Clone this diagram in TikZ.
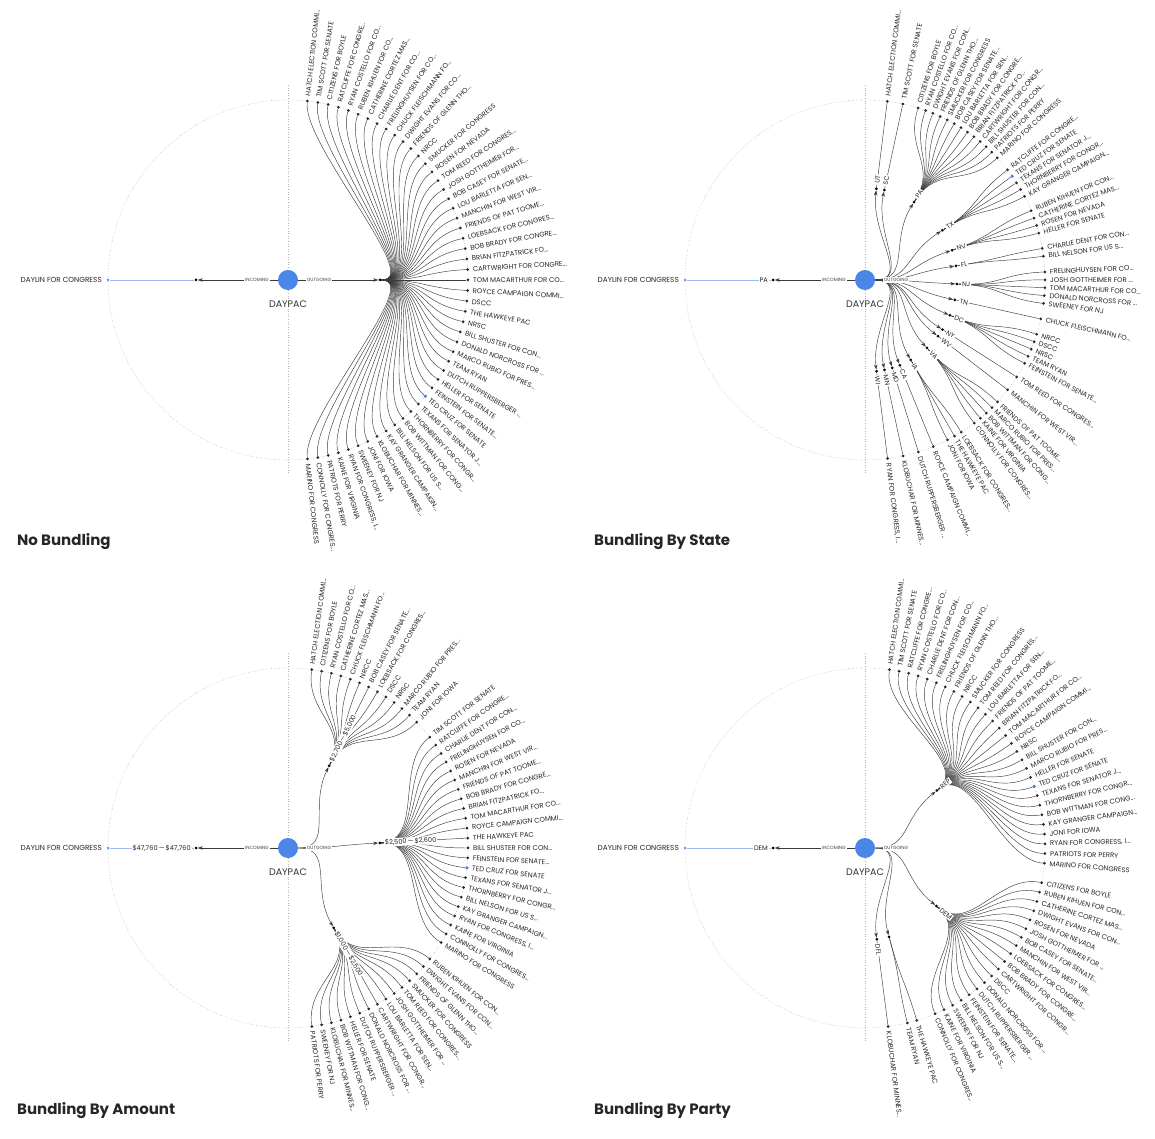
\documentclass[tikz,border=0pt]{standalone}
\usepackage{fontspec}
\setmainfont{Poppins}
\usetikzlibrary{arrows.meta,calc}
\definecolor{pacblue}{HTML}{4A86E8}
\definecolor{donorblue}{HTML}{9DBDF0}
\definecolor{linkgray}{HTML}{3A3A3A}
\newcommand{\trunc}{...}
\tikzstyle{ring}=[draw=black!30,dotted,line width=0.6pt]
\tikzstyle{pac}=[circle,fill=pacblue,minimum size=20pt,inner sep=0pt]
\tikzstyle{pacname}=[font=\fontsize{9.5}{10}\selectfont,text=black!80]
\tikzstyle{donor}=[circle,fill=pacblue!80,minimum size=3pt,inner sep=0pt]
\tikzstyle{donorname}=[font=\fontsize{7.3}{8}\selectfont,text=black!85,inner sep=0pt,anchor=east]
\tikzstyle{leaf}=[circle,fill=black!85,minimum size=3pt,inner sep=0pt]
\tikzstyle{hitleaf}=[circle,fill=pacblue,minimum size=3.2pt,inner sep=0pt]
\tikzstyle{hub}=[circle,fill=black,minimum size=3pt,inner sep=0pt]
\tikzstyle{link}=[draw=linkgray,line width=0.45pt]
\tikzstyle{inlink}=[draw=donorblue,line width=0.7pt]
\tikzstyle{tolink}=[draw=linkgray,line width=0.45pt,-{Stealth[length=5pt,width=3.5pt]}]
\tikzstyle{leafname}=[font=\fontsize{6.9}{7}\selectfont,text=black!85,inner sep=0pt,anchor=west]
\tikzstyle{hubname}=[font=\fontsize{6.6}{7}\selectfont,text=black!85,fill=white,inner sep=1pt,anchor=west]
\tikzstyle{flow}=[font=\fontsize{4.6}{5}\selectfont,text=black!75,fill=white,inner sep=1pt]
\tikzstyle{title}=[font=\fontsize{15}{17}\selectfont\bfseries,text=black!85,anchor=base west,inner sep=0pt]

\begin{document}
\begin{tikzpicture}[x=1pt,y=1pt]
\useasboundingbox (0,0) rectangle (1155,1138);

\foreach \px/\py/\p in {288/858/tl, 865/858/tr, 288/290/bl, 865/290/br} {
  \begin{scope}[shift={(\px,\py)}]
    \draw[ring] (0,0) circle (180);
    \draw[ring] (0,195) -- (0,-195);
    \node[pac] (\p-pac) at (0,0) {};
    \node[pacname] at (0,-24) {DAYPAC};
    \node[donor] (\p-donor) at (180:180) {};
    \node[donorname] at (180:186) {DAYLIN FOR CONGRESS};
    \node[hub] (\p-in) at (180:92) {};
    \draw[inlink] (\p-in) -- (\p-donor);
    \draw[tolink] (\p-pac) -- (\p-in);
    \node[flow] at (180:31) {INCOMING};
  \end{scope}
}

\node[title] (t1) at (17,592) {No Bundling};
\node[title] (t2) at (594,592) {Bundling By State};
\node[title] (t3) at (17,24) {Bundling By Amount};
\node[title] (t4) at (594,24) {Bundling By Party};

% no bundling
\begin{scope}[shift={(288,858)}]
  \node[hub] (tl-hub) at (0:92) {};
  \draw[tolink] (tl-pac) -- (tl-hub);
  \foreach \nm [count=\i] in {HATCH ELECTION COMMI\trunc, TIM SCOTT FOR SENATE, CITIZENS FOR BOYLE,
      RATCLIFFE FOR CONGRE\trunc, RYAN COSTELLO FOR CO\trunc, RUBEN KIHUEN FOR CO\trunc, CATHERINE CORTEZ MAS\trunc,
      CHARLIE DENT FOR CO\trunc, FRELINGHUYSEN FOR CO\trunc, CHUCK FLEISCHMANN FO\trunc, DWIGHT EVANS FOR CO\trunc,
      FRIENDS OF GLENN THO\trunc, NRCC, SMUCKER FOR CONGRESS, ROSEN FOR NEVADA, TOM REED FOR CONGRES\trunc,
      JOSH GOTTHEIMER FOR\trunc, BOB CASEY FOR SENATE\trunc, LOU BARLETTA FOR SEN\trunc, MANCHIN FOR WEST VIR\trunc,
      FRIENDS OF PAT TOOME\trunc, LOEBSACK FOR CONGRES\trunc, BOB BRADY FOR CONGRE\trunc, BRIAN FITZPATRICK FO\trunc,
      CARTWRIGHT FOR CONGRE\trunc, TOM MACARTHUR FOR CO\trunc, ROYCE CAMPAIGN COMMI\trunc, DSCC, THE HAWKEYE PAC,
      NRSC, BILL SHUSTER FOR CON\trunc, DONALD NORCROSS FOR \trunc, MARCO RUBIO FOR PRES\trunc, TEAM RYAN,
      DUTCH RUPPERSBERGER \trunc, HELLER FOR SENATE, FEINSTEIN FOR SENATE\trunc, TED CRUZ FOR SENATE,
      TEXANS FOR SENATOR J\trunc, THORNBERRY FOR CONGR\trunc, BOB WITTMAN FOR CONG\trunc, BILL NELSON FOR US S\trunc,
      KAY GRANGER CAMPAIGN\trunc, KLOBUCHAR FOR MINNES\trunc, JONI FOR IOWA, SWEENEY FOR NJ,
      {RYAN FOR CONGRESS, I\trunc}, KAINE FOR VIRGINIA, PATRIOTS FOR PERRY, CONNOLLY FOR CONGRES\trunc,
      MARINO FOR CONGRESS} {
    \pgfmathsetmacro\ang{83.8-(\i-1)*3.352}
    \node[leaf] (tl-\i) at (\ang:180) {};
    \node[leafname,rotate=\ang] at (\ang:185) {\nm};
    \draw[link] (tl-hub) .. controls ($(tl-pac)!1.478!(tl-hub)$) and ($(tl-pac)!0.7556!(tl-\i)$) .. (tl-\i);
  }
  \node[hitleaf] (tl-cruz) at (tl-38) {};
\end{scope}

% by state
\begin{scope}[shift={(865,858)}]
  \foreach \g/\m in {ut/0, sc/2, pa/10, tx/20, nv/25.5, fl/29.5, nj/34, tn/38, dc/42, ny/46,
      wv/48, va/52, ia/57, ca/60, md/62, mn/64, wi/66} {
    \pgfmathsetmacro\hang{82.9-\m*2.5106}
    \node[hub] (tr-\g) at (\hang:92) {};
    \draw[tolink] (tr-pac) .. controls (0:46) and ($(tr-pac)!0.5!(tr-\g)$) .. (tr-\g);
  }
  \foreach \u/\g/\nm in {0/ut/HATCH ELECTION COMMI\trunc, 2/sc/TIM SCOTT FOR SENATE,
      4/pa/CITIZENS FOR BOYLE, 5/pa/RYAN COSTELLO FOR CO\trunc, 6/pa/DWIGHT EVANS FOR CON\trunc,
      7/pa/FRIENDS OF GLENN THO\trunc, 8/pa/SMUCKER FOR CONGRESS, 9/pa/BOB CASEY FOR SENATE\trunc,
      10/pa/LOU BARLETTA FOR SEN\trunc, 11/pa/BOB BRADY FOR CONGRE\trunc, 12/pa/BRIAN FITZPATRICK FO\trunc,
      13/pa/CARTWRIGHT FOR CONGR\trunc, 14/pa/BILL SHUSTER FOR CON\trunc, 15/pa/PATRIOTS FOR PERRY,
      16/pa/MARINO FOR CONGRESS, 18/tx/RATCLIFFE FOR CONGRE\trunc, 19/tx/TED CRUZ FOR SENATE,
      20/tx/TEXANS FOR SENATOR J\trunc, 21/tx/THORNBERRY FOR CONGR\trunc, 22/tx/KAY GRANGER CAMPAIGN\trunc,
      24/nv/RUBEN KIHUEN FOR CON\trunc, 25/nv/CATHERINE CORTEZ MAS\trunc, 26/nv/ROSEN FOR NEVADA,
      27/nv/HELLER FOR SENATE, 29/fl/CHARLIE DENT FOR CON\trunc, 30/fl/BILL NELSON FOR US S\trunc,
      32/nj/FRELINGHUYSEN FOR CO\trunc, 33/nj/JOSH GOTTHEIMER FOR \trunc, 34/nj/TOM MACARTHUR FOR CO\trunc,
      35/nj/DONALD NORCROSS FOR \trunc, 36/nj/SWEENEY FOR NJ, 38/tn/CHUCK FLEISCHMANN FO\trunc,
      40/dc/NRCC, 41/dc/DSCC, 42/dc/NRSC, 43/dc/TEAM RYAN, 44/dc/FEINSTEIN FOR SENATE\trunc,
      46/ny/TOM REED FOR CONGRES\trunc, 48/wv/MANCHIN FOR WEST VIR\trunc, 50/va/FRIENDS OF PAT TOOME\trunc,
      51/va/MARCO RUBIO FOR PRES\trunc, 52/va/BOB WITTMAN FOR CONG\trunc, 53/va/KAINE FOR VIRGINIA,
      54/va/CONNOLLY FOR CONGRES\trunc, 56/ia/LOEBSACK FOR CONGRES\trunc, 57/ia/THE HAWKEYE PAC,
      58/ia/JONI FOR IOWA, 60/ca/ROYCE CAMPAIGN COMMI\trunc, 62/md/DUTCH RUPPERSBERGER \trunc,
      64/mn/KLOBUCHAR FOR MINNES\trunc, 66/wi/{RYAN FOR CONGRESS, I\trunc}} {
    \pgfmathsetmacro\ang{82.9-\u*2.5106}
    \node[leaf] (tr-\u) at (\ang:180) {};
    \node[leafname,rotate=\ang] at (\ang:185) {\nm};
    \draw[link] (tr-\g) .. controls ($(tr-pac)!1.478!(tr-\g)$) and ($(tr-pac)!0.7556!(tr-\u)$) .. (tr-\u);
  }
  \node[hitleaf] (tr-cruz) at (tr-19) {};
  \foreach \g/\lbl/\m in {ut/UT/0, sc/SC/2, pa/PA/10, tx/TX/20, nv/NV/25.5, fl/FL/29.5, nj/NJ/34,
      tn/TN/38, dc/DC/42, ny/NY/46, wv/WV/48, va/VA/52, ia/IA/57, ca/CA/60, md/MD/62, mn/MN/64, wi/WI/66} {
    \pgfmathsetmacro\hang{82.9-\m*2.5106}
    \node[hubname,rotate=\hang] at (\hang:96) {\lbl};
  }
  \node[hubname,anchor=east] at (180:96) {PA};
\end{scope}

% by amount
\begin{scope}[shift={(288,290)}]
  \foreach \g/\m in {a/6, b/25, c/45} {
    \pgfmathsetmacro\hang{82.4-\m*3.169}
    \node[hub] (bl-\g) at (\hang:92) {};
    \draw[tolink] (bl-pac) .. controls (0:46) and ($(bl-pac)!0.5!(bl-\g)$) .. (bl-\g);
  }
  \foreach \u/\g/\nm in {0/a/HATCH ELECTION COMMI\trunc, 1/a/CITIZENS FOR BOYLE, 2/a/RYAN COSTELLO FOR CO\trunc,
      3/a/CATHERINE CORTEZ MAS\trunc, 4/a/CHUCK FLEISCHMANN FO\trunc, 5/a/NRCC, 6/a/BOB CASEY FOR SENATE\trunc,
      7/a/LOEBSACK FOR CONGRES\trunc, 8/a/DSCC, 9/a/NRSC, 10/a/MARCO RUBIO FOR PRES\trunc, 11/a/TEAM RYAN,
      12/a/JONI FOR IOWA, 14/b/TIM SCOTT FOR SENATE, 15/b/RATCLIFFE FOR CONGRE\trunc,
      16/b/CHARLIE DENT FOR CON\trunc, 17/b/FRELINGHUYSEN FOR CO\trunc, 18/b/ROSEN FOR NEVADA,
      19/b/MANCHIN FOR WEST VIR\trunc, 20/b/FRIENDS OF PAT TOOME\trunc, 21/b/BOB BRADY FOR CONGRE\trunc,
      22/b/BRIAN FITZPATRICK FO\trunc, 23/b/TOM MACARTHUR FOR CO\trunc, 24/b/ROYCE CAMPAIGN COMMI\trunc,
      25/b/THE HAWKEYE PAC, 26/b/BILL SHUSTER FOR CON\trunc, 27/b/FEINSTEIN FOR SENATE\trunc,
      28/b/TED CRUZ FOR SENATE, 29/b/TEXANS FOR SENATOR J\trunc, 30/b/THORNBERRY FOR CONGR\trunc,
      31/b/BILL NELSON FOR US S\trunc, 32/b/KAY GRANGER CAMPAIGN\trunc, 33/b/{RYAN FOR CONGRESS, I\trunc},
      34/b/KAINE FOR VIRGINIA, 35/b/CONNOLLY FOR CONGRES\trunc, 36/b/MARINO FOR CONGRESS,
      38/c/RUBEN KIHUEN FOR CON\trunc, 39/c/DWIGHT EVANS FOR CON\trunc, 40/c/FRIENDS OF GLENN THO\trunc,
      41/c/SMUCKER FOR CONGRESS, 42/c/TOM REED FOR CONGRES\trunc, 43/c/JOSH GOTTHEIMER FOR \trunc,
      44/c/LOU BARLETTA FOR SEN\trunc, 45/c/CARTWRIGHT FOR CONGR\trunc, 46/c/DONALD NORCROSS FOR \trunc,
      47/c/DUTCH RUPPERSBERGER \trunc, 48/c/HELLER FOR SENATE, 49/c/BOB WITTMAN FOR CONG\trunc,
      50/c/KLOBUCHAR FOR MINNES\trunc, 51/c/SWEENEY FOR NJ, 52/c/PATRIOTS FOR PERRY} {
    \pgfmathsetmacro\ang{82.4-\u*3.169}
    \node[leaf] (bl-\u) at (\ang:180) {};
    \node[leafname,rotate=\ang] at (\ang:185) {\nm};
    \draw[link] (bl-\g) .. controls ($(bl-pac)!1.478!(bl-\g)$) and ($(bl-pac)!0.7556!(bl-\u)$) .. (bl-\u);
  }
  \node[hitleaf] (bl-cruz) at (bl-28) {};
  \foreach \g/\lbl/\m in {a/{\$2,700\,—\,\$5,000}/6, b/{\$2,500\,—\,\$2,600}/25, c/{\$1,000\,—\,\$2,500}/45} {
    \pgfmathsetmacro\hang{82.4-\m*3.169}
    \node[hubname,rotate=\hang] at (\hang:96) {\lbl};
  }
  \node[hubname,anchor=east] at (180:96) {\$47,760\,—\,\$47,760};
\end{scope}

% by party
\begin{scope}[shift={(865,290)}]
  \foreach \g/\m in {rep/14, dem/39, unk/50.5, dfl/53} {
    \pgfmathsetmacro\hang{82.2-\m*3.11}
    \node[hub] (br-\g) at (\hang:92) {};
    \draw[tolink] (br-pac) .. controls (0:46) and ($(br-pac)!0.5!(br-\g)$) .. (br-\g);
  }
  \foreach \u/\g/\nm in {0/rep/HATCH ELECTION COMMI\trunc, 1/rep/TIM SCOTT FOR SENATE,
      2/rep/RATCLIFFE FOR CONGRE\trunc, 3/rep/RYAN COSTELLO FOR CO\trunc, 4/rep/CHARLIE DENT FOR CON\trunc,
      5/rep/FRELINGHUYSEN FOR CO\trunc, 6/rep/CHUCK FLEISCHMANN FO\trunc, 7/rep/FRIENDS OF GLENN THO\trunc,
      8/rep/NRCC, 9/rep/SMUCKER FOR CONGRESS, 10/rep/TOM REED FOR CONGRES\trunc, 11/rep/LOU BARLETTA FOR SEN\trunc,
      12/rep/FRIENDS OF PAT TOOME\trunc, 13/rep/BRIAN FITZPATRICK FO\trunc, 14/rep/TOM MACARTHUR FOR CO\trunc,
      15/rep/ROYCE CAMPAIGN COMMI\trunc, 16/rep/NRSC, 17/rep/BILL SHUSTER FOR CON\trunc,
      18/rep/MARCO RUBIO FOR PRES\trunc, 19/rep/HELLER FOR SENATE, 20/rep/TED CRUZ FOR SENATE,
      21/rep/TEXANS FOR SENATOR J\trunc, 22/rep/THORNBERRY FOR CONGR\trunc, 23/rep/BOB WITTMAN FOR CONG\trunc,
      24/rep/KAY GRANGER CAMPAIGN\trunc, 25/rep/JONI FOR IOWA, 26/rep/{RYAN FOR CONGRESS, I\trunc},
      27/rep/PATRIOTS FOR PERRY, 28/rep/MARINO FOR CONGRESS, 30/dem/CITIZENS FOR BOYLE,
      31/dem/RUBEN KIHUEN FOR CON\trunc, 32/dem/CATHERINE CORTEZ MAS\trunc, 33/dem/DWIGHT EVANS FOR CON\trunc,
      34/dem/ROSEN FOR NEVADA, 35/dem/JOSH GOTTHEIMER FOR \trunc, 36/dem/BOB CASEY FOR SENATE\trunc,
      37/dem/MANCHIN FOR WEST VIR\trunc, 38/dem/LOEBSACK FOR CONGRES\trunc, 39/dem/BOB BRADY FOR CONGRE\trunc,
      40/dem/CARTWRIGHT FOR CONGR\trunc, 41/dem/DSCC, 42/dem/DONALD NORCROSS FOR \trunc,
      43/dem/DUTCH RUPPERSBERGER \trunc, 44/dem/FEINSTEIN FOR SENATE\trunc, 45/dem/BILL NELSON FOR US S\trunc,
      46/dem/SWEENEY FOR NJ, 47/dem/KAINE FOR VIRGINIA, 48/dem/CONNOLLY FOR CONGRES\trunc,
      50/unk/THE HAWKEYE PAC, 51/unk/TEAM RYAN, 53/dfl/KLOBUCHAR FOR MINNES\trunc} {
    \pgfmathsetmacro\ang{82.2-\u*3.11}
    \node[leaf] (br-\u) at (\ang:180) {};
    \node[leafname,rotate=\ang] at (\ang:185) {\nm};
    \draw[link] (br-\g) .. controls ($(br-pac)!1.478!(br-\g)$) and ($(br-pac)!0.7556!(br-\u)$) .. (br-\u);
  }
  \node[hitleaf] (br-cruz) at (br-20) {};
  \foreach \g/\lbl/\m in {rep/REP/14, dem/DEM/39, dfl/DFL/53} {
    \pgfmathsetmacro\hang{82.2-\m*3.11}
    \node[hubname,rotate=\hang] at (\hang:96) {\lbl};
  }
  \node[hubname,anchor=east] at (180:96) {DEM};
\end{scope}

\foreach \px/\py/\p in {288/858/tl, 865/858/tr, 288/290/bl, 865/290/br}
  \node[flow] (\p-out) at ($(\p-pac)+(31,0)$) {OUTGOING};

\end{tikzpicture}
\end{document}
